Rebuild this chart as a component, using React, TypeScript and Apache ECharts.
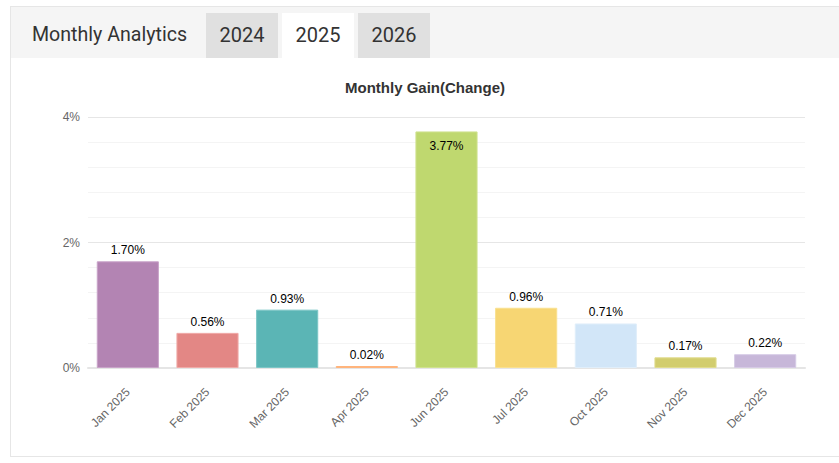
import React, { useEffect, useRef } from "react";
import * as echarts from "echarts";

const categories = ["Jan 2025", "Feb 2025", "Mar 2025", "Apr 2025", "Jun 2025", "Jul 2025", "Oct 2025", "Nov 2025", "Dec 2025"];
const gains = [1.7, 0.56, 0.93, 0.02, 3.77, 0.96, 0.71, 0.17, 0.22];
const barColors = ["#b384b3", "#e38785", "#5bb5b5", "#ffbe8c", "#bfd86f", "#f7d673", "#d2e6f8", "#d2cd6e", "#c7b7d9"];
const barBorders = ["#c9a3c9", "#f0aaa8", "#7cc6c6", "#ffb47c", "#cfe28e", "#f9e08f", "#e0eefa", "#e0dc8e", "#d6cae5"];
const yTicks = [0, 2, 4];
const tabs = ["2024", "2025", "2026"];

export default function App() {
  const ref = useRef<HTMLDivElement>(null);
  useEffect(() => {
    if (!ref.current) return;
    const chart = echarts.init(ref.current, null, { renderer: "svg" });
    chart.setOption({
      animation: false,
      title: {
        text: "Monthly Gain(Change)",
        left: "center",
        top: 17,
        textStyle: { fontFamily: "Liberation Sans, Arial, sans-serif", fontSize: 15, fontWeight: "bold", color: "#333" },
      },
      grid: { left: 77, right: 34, top: 59, bottom: 87, containLabel: false },
      xAxis: {
        type: "category",
        data: categories,
        axisLine: { show: true, lineStyle: { color: "#e5e5e5", width: 2 } },
        axisTick: { show: false },
        axisLabel: { rotate: 45, color: "#666", fontSize: 12, fontFamily: "Liberation Sans, Arial, sans-serif", margin: 22 },
      },
      yAxis: {
        type: "value",
        min: yTicks[0],
        max: yTicks[yTicks.length - 1],
        interval: 2,
        axisLine: { show: false },
        axisTick: { show: false },
        axisLabel: { formatter: "{value}%", color: "#666", fontSize: 12, fontFamily: "Liberation Sans, Arial, sans-serif", margin: 8 },
        splitLine: { show: true, lineStyle: { color: "#e6e6e6", width: 1 } },
        minorTick: { show: false, splitNumber: 5 },
        minorSplitLine: { show: true, lineStyle: { color: "#f4f4f4", width: 1 } },
      },
      series: [
        {
          type: "bar",
          barWidth: "78%",
          barMinHeight: 2,
          data: gains.map((v, i) => ({
            value: v,
            itemStyle: { color: barColors[i], borderColor: barBorders[i], borderWidth: 1 },
            label: {
              show: true,
              position: v > 3.5 ? "insideTop" : "top",
              distance: v > 3.5 ? 9 : 5,
              formatter: (p: any) => p.value.toFixed(2) + "%",
              color: "#000",
              fontSize: 12,
              fontFamily: "Liberation Sans, Arial, sans-serif",
            },
          })),
        },
      ],
    });
    return () => chart.dispose();
  }, []);

  const tabLeft = [206, 282, 358];
  return (
    <div style={{ position: "fixed", left: 0, top: 0, width: 839, height: 463, background: "#fff", overflow: "hidden" }}>
      <div style={{ position: "absolute", left: 10, top: 6, width: 840, height: 451, border: "1px solid #e6e6e6", boxSizing: "border-box" }} />
      <div style={{ position: "absolute", left: 11, top: 7, width: 830, height: 51, background: "#f5f5f5" }} />
      <div style={{ position: "absolute", left: 32, top: 22, fontFamily: "Roboto, sans-serif", fontSize: 19.6, fontWeight: 400, color: "#333", lineHeight: "26px" }}>
        Monthly Analytics
      </div>
      {tabs.map((t, i) => (
        <div
          key={t}
          style={{
            position: "absolute",
            left: tabLeft[i],
            top: 13,
            width: 72,
            height: 43,
            background: t === "2025" ? "#fff" : "#e0e0e0",
            fontFamily: "Roboto, sans-serif",
            fontSize: 20,
            color: "#333",
            display: "flex",
            alignItems: "center",
            justifyContent: "center",
          }}
        >
          {t}
        </div>
      ))}
      <div style={{ position: "absolute", left: 206, top: 56, width: 224, height: 2 }}>
        <div style={{ position: "absolute", left: 0, top: 0, width: 72, height: 2, background: "#e0e0e0" }} />
        <div style={{ position: "absolute", left: 76, top: 0, width: 72, height: 2, background: "#fff" }} />
        <div style={{ position: "absolute", left: 152, top: 0, width: 72, height: 2, background: "#e0e0e0" }} />
      </div>
      <div ref={ref} style={{ position: "absolute", left: 11, top: 58, width: 828, height: 397 }} />
    </div>
  );
}
